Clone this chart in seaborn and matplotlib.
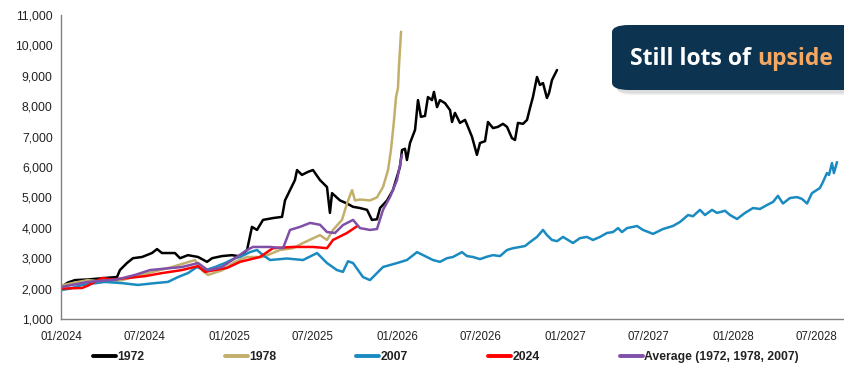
import numpy as np
import pandas as pd
import matplotlib
matplotlib.use("Agg")
import matplotlib.pyplot as plt
import matplotlib.dates as mdates
from matplotlib.patches import FancyBboxPatch
from matplotlib.lines import Line2D
import seaborn as sns

# ---- data (months since 01/2024, value) ----
m1972 = [0, 0.5, 1.0, 1.93, 3.14, 4.0, 4.21, 4.71, 5.14, 5.79, 6.5, 6.86, 7.21, 8.14, 8.5, 9.07, 9.79, 10.43, 10.79, 11.5,
         12.21, 12.79, 13.29, 13.64, 14.0, 14.43, 15.14, 15.79, 16.0, 16.36, 16.71, 16.86, 17.21, 17.64, 18.0, 18.5, 19.0, 19.21, 19.36, 19.93,
         20.43, 20.86, 21.36, 21.86, 22.21, 22.57, 22.79, 23.29, 23.71, 24.21,
         24.36, 24.57, 24.71, 24.93, 25.29, 25.5, 25.71, 26.0, 26.21, 26.5, 26.64, 26.86, 27.07, 27.43, 27.79, 27.93, 28.14, 28.5, 28.86, 29.07,
         29.36, 29.71, 29.93, 30.29, 30.5, 30.86, 31.21, 31.57, 31.86, 32.21, 32.43, 32.64, 33.0, 33.29, 33.5, 33.71, 34.0, 34.21, 34.43, 34.71,
         34.86, 35.07, 35.43]
v1972 = [2050, 2200, 2280, 2300, 2350, 2380, 2610, 2840, 3000, 3040, 3170, 3300, 3170, 3170, 3000, 3100, 3040, 2880, 3000, 3070,
         3100, 3060, 3270, 4030, 3930, 4260, 4320, 4360, 4900, 5240, 5570, 5900, 5740, 5840, 5900, 5570, 5340, 4490, 5140, 4900,
         4800, 4690, 4650, 4590, 4260, 4280, 4650, 4900, 5240, 6000,
         6560, 6600, 6230, 6790, 7220, 8200, 7650, 7680, 8300, 8200, 8470, 7970, 8200, 8100, 7870, 7480, 7780, 7450, 7550, 7320,
         6990, 6400, 6790, 6850, 7480, 7280, 7320, 7420, 7320, 6950, 6890, 7450, 7420, 7550, 7940, 8300, 8960, 8700, 8760, 8270,
         8430, 8860, 9190]

m1978 = [0, 1.0, 1.93, 3.14, 4.36, 6.21, 7.93, 9.57, 10.07, 10.5, 11.5, 12.43, 13.29, 14.43, 15.64, 16.57, 17.29, 18.5, 19.0, 19.43,
         20.07, 20.43, 20.79, 21.0, 21.36, 22.07, 22.57, 23.0, 23.36, 23.57, 23.79, 23.93, 24.07, 24.14, 24.29]
v1978 = [2100, 2200, 2280, 2220, 2280, 2510, 2710, 2940, 2600, 2450, 2600, 2880, 3040, 3040, 3270, 3330, 3500, 3760, 3600, 3930,
         4260, 4800, 5240, 4900, 4930, 4900, 5000, 5340, 5900, 6560, 7550, 8300, 8600, 9300, 10450]

m2007 = [0, 0.64, 1.5, 3.14, 4.36, 5.5, 6.71, 7.64, 8.36, 9.07, 9.71, 10.29, 11.0, 11.71, 12.43, 12.79, 13.5, 14.0, 14.43, 14.93,
         16.14, 17.29, 18.29, 19.0, 19.71, 20.14, 20.5, 20.86, 21.57, 22.07, 22.57, 23.0, 24.0, 24.71, 25.43, 26.57,
         27.07, 27.57, 28.0, 28.64, 29.0, 29.43, 29.93, 30.43, 30.86, 31.36, 31.86, 32.29, 32.79, 33.14, 33.5, 34.0, 34.43, 34.71, 35.07, 35.43,
         35.86, 36.21, 36.57, 37.07, 37.57, 38.0, 38.5, 39.0, 39.43, 39.79, 40.07, 40.43, 40.86, 41.14, 41.57, 42.29, 43.0, 43.71, 44.21, 44.79,
         45.14, 45.64, 46.0, 46.5, 46.86, 47.43, 47.79, 48.29, 48.86, 49.43, 49.93, 50.43, 50.86, 51.21, 51.57, 52.07, 52.57, 52.93, 53.29, 53.64,
         54.21, 54.43, 54.71, 54.86, 55.07, 55.21, 55.43]
v2007 = [1950, 2000, 2120, 2220, 2180, 2120, 2180, 2220, 2380, 2510, 2710, 2600, 2710, 2840, 3000, 3040, 3200, 3270, 3100, 2940,
         2990, 2940, 3170, 2840, 2610, 2550, 2900, 2840, 2380, 2280, 2510, 2710, 2840, 2940, 3200, 2940,
         2880, 3000, 3040, 3200, 3070, 3040, 2970, 3050, 3100, 3070, 3270, 3330, 3370, 3400, 3530, 3700, 3930, 3760, 3600, 3560,
         3700, 3600, 3500, 3660, 3700, 3600, 3700, 3830, 3860, 3990, 3860, 3990, 4030, 4060, 3930, 3800, 3960, 4060, 4190, 4420,
         4380, 4590, 4420, 4590, 4490, 4560, 4420, 4290, 4490, 4650, 4620, 4750, 4850, 5050, 4800, 4980, 5010, 4950, 4800, 5140,
         5310, 5510, 5800, 5740, 6130, 5800, 6160]

m2024 = [0, 1.5, 1.93, 2.93, 3.64, 4.79, 6.0, 7.21, 8.64, 9.79, 10.29, 11.0, 11.86, 12.79, 14.21, 15.14, 16.57, 18.0, 19.0, 19.43,
         20.43, 21.14]
v2024 = [2000, 2020, 2100, 2350, 2300, 2350, 2410, 2510, 2610, 2740, 2550, 2610, 2680, 2880, 3040, 3330, 3370, 3370, 3330, 3600,
         3830, 4050]

mavg = [0, 1.93, 4.0, 5.29, 6.36, 8.64, 9.79, 10.5, 11.5, 12.43, 13.29, 13.71, 14.93, 15.86, 16.36, 17.07, 17.79, 18.5, 19.0, 19.57,
        20.14, 20.86, 21.36, 22.07, 22.57, 23.0, 23.5, 24.0, 24.36]
vavg = [2050, 2220, 2300, 2450, 2610, 2710, 2840, 2600, 2710, 3000, 3270, 3370, 3370, 3330, 3930, 4030, 4160, 4100, 3860, 3830,
        4090, 4260, 3990, 3930, 3960, 4590, 5010, 5570, 6400]

series_names = ["1972", "1978", "2007", "2024", "Average (1972, 1978, 2007)"]
series_colors = ["#000000", "#C3AF6C", "#1A8BC0", "#FF0000", "#8050A8"]
series_m = [m1972, m1978, m2007, m2024, mavg]
series_v = [v1972, v1978, v2007, v2024, vavg]

yticks = [1000, 2000, 3000, 4000, 5000, 6000, 7000, 8000, 9000, 10000, 11000]

start = pd.Timestamp("2024-01-01")
frames = []
for name, m, v in zip(series_names, series_m, series_v):
    d = start + pd.to_timedelta(np.array(m) * 30.4375, unit="D")
    frames.append(pd.DataFrame({"date": d, "value": v, "series": name}))
df = pd.concat(frames, ignore_index=True)

sns.set_style("white")
plt.rcParams["font.family"] = ["Liberation Sans", "DejaVu Sans"]

W, H = 844, 371
fig = plt.figure(figsize=(W / 100, H / 100), dpi=100)
ax = fig.add_axes([61 / W, 1 - 319 / H, (W - 61) / W, (319 - 15) / H])

sns.lineplot(data=df, x="date", y="value", hue="series", hue_order=series_names,
             palette=dict(zip(series_names, series_colors)), estimator=None, sort=False,
             linewidth=1.8, legend=False, ax=ax)

ax.set_ylim(1000, 11000)
ax.set_yticks(yticks)
ax.yaxis.set_major_formatter(matplotlib.ticker.FuncFormatter(lambda v, p: f"{int(v):,}"))
ax.set_xlim(start, start + pd.Timedelta(days=55.93 * 30.4375))
ax.xaxis.set_major_locator(mdates.MonthLocator(bymonth=[1, 7]))
ax.xaxis.set_major_formatter(mdates.DateFormatter("%m/%Y"))
ax.set_xlabel("")
ax.set_ylabel("")
for s in ["top", "right"]:
    ax.spines[s].set_visible(False)
for s in ["left", "bottom"]:
    ax.spines[s].set_color("#808080")
    ax.spines[s].set_linewidth(1.0)
ax.tick_params(axis="both", which="major", direction="out", length=3.5, width=0.8,
               color="#808080", labelsize=8.7, labelcolor="#222222", pad=2.5)
ax.tick_params(axis="x", pad=5, labelsize=8.3)
ax.grid(False)

handles = [Line2D([], [], color=c, lw=2.8) for c in series_colors]
leg = fig.legend(handles, series_names, loc="center left", bbox_to_anchor=(93 / W, 1 - 357 / H),
                 ncol=5, frameon=False, handlelength=1.9, handletextpad=0.1, columnspacing=6.55,
                 borderpad=0, borderaxespad=0, prop={"weight": "bold", "size": 8.8})
for t in leg.get_texts():
    t.set_color("#222222")

# callout box with shadow
for i, a in enumerate([0.05, 0.07, 0.09]):
    off = 3 + i
    sh = FancyBboxPatch((612 / W + off / W, 1 - 90 / H - off / H), 400 / W, 65 / H,
                        boxstyle="round,pad=0,rounding_size=0.02", transform=fig.transFigure,
                        facecolor="#555555", edgecolor="none", alpha=a, zorder=5)
    fig.add_artist(sh)
box = FancyBboxPatch((612 / W, 1 - 90 / H), 400 / W, 65 / H,
                     boxstyle="round,pad=0,rounding_size=0.02", transform=fig.transFigure,
                     facecolor="#0C334F", edgecolor="none", zorder=6)
fig.add_artist(box)
t1 = fig.text(630 / W, 1 - 59 / H, "Still lots of ", color="white", fontsize=16.5, fontweight="bold",
              family=["Open Sans", "DejaVu Sans"], va="center", ha="left", zorder=7)
fig.canvas.draw()
bb = t1.get_window_extent(renderer=fig.canvas.get_renderer())
fig.text(bb.x1 / W, 1 - 59 / H, "upside", color="#F5A862", fontsize=16.5, fontweight="bold",
         family=["Open Sans", "DejaVu Sans"], va="center", ha="left", zorder=7)

fig.savefig("out.png", dpi=100)
